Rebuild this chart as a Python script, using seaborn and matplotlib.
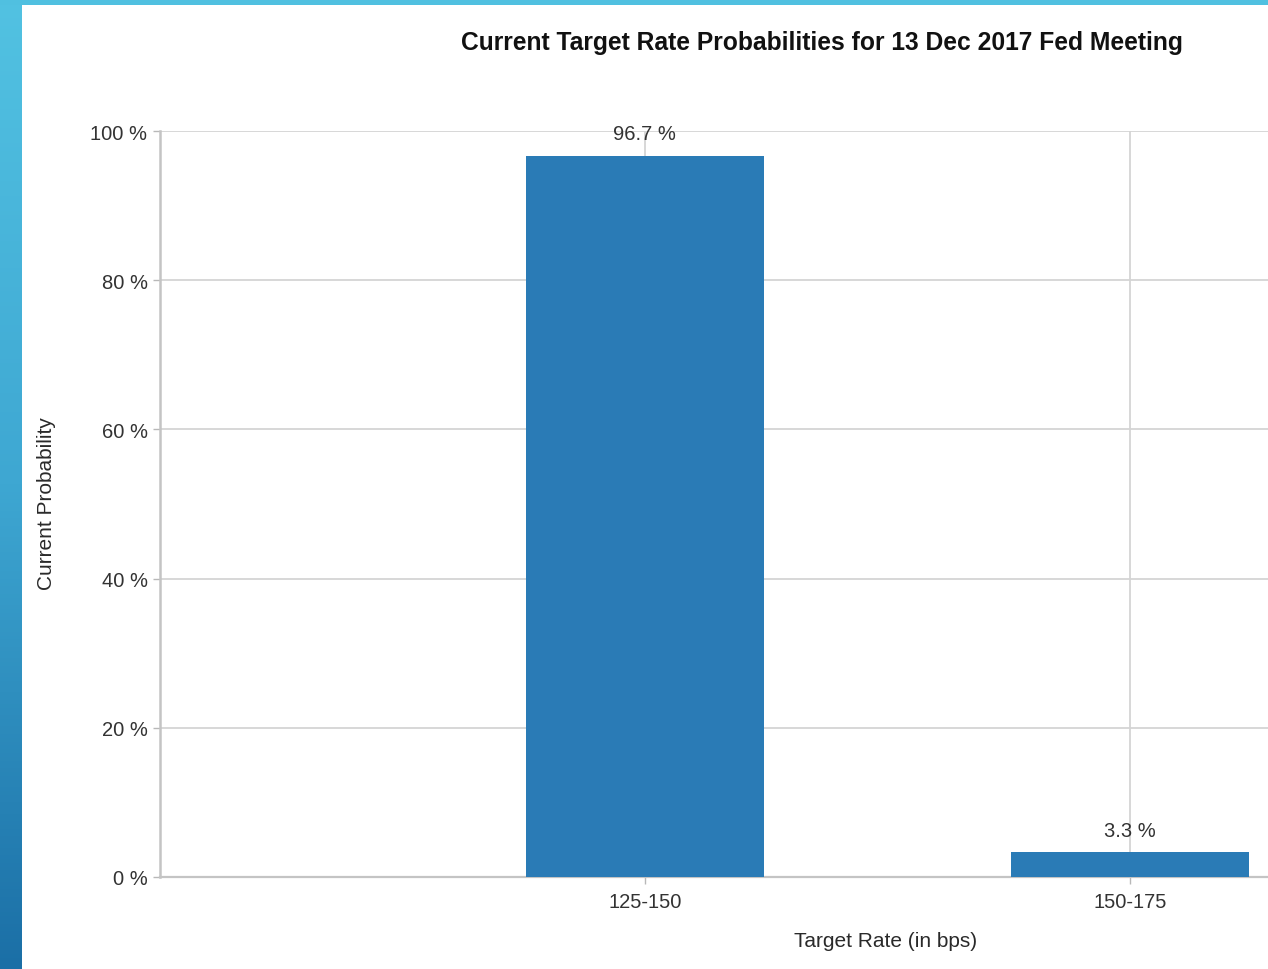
import numpy as np
import pandas as pd
import matplotlib
matplotlib.use("Agg")
import matplotlib.pyplot as plt
from matplotlib.colors import LinearSegmentedColormap
import seaborn as sns

# ---- data ----
categories = ["125-150", "150-175"]
probabilities = [96.7, 3.3]
y_ticks = [0, 20, 40, 60, 80, 100]
y_tick_labels = ["0 %", "20 %", "40 %", "60 %", "80 %", "100 %"]
bar_labels = ["96.7 %", "3.3 %"]

title = "Current Target Rate Probabilities for 13 Dec 2017 Fed Meeting"
x_label = "Target Rate (in bps)"
y_label = "Current Probability"

sns.set_theme(style="white")
plt.rcParams["font.family"] = ["Liberation Sans", "DejaVu Sans"]

W, H = 1268, 970
fig = plt.figure(figsize=(W / 100, H / 100), dpi=100)
fig.patch.set_facecolor("white")

# blue frame (left gradient strip + top strip)
cmap = LinearSegmentedColormap.from_list("frame", ["#52c2e2", "#3ea7d2", "#1b6fa6"])
ax_l = fig.add_axes([0, 0, 22 / W, 1])
ax_l.imshow(np.linspace(0, 1, 256).reshape(-1, 1), aspect="auto", cmap=cmap)
ax_l.set_axis_off()
ax_t = fig.add_axes([0, 1 - 6 / H, 1, 6 / H])
ax_t.set_facecolor("#50c0e0")
ax_t.set_xticks([]); ax_t.set_yticks([])
for s in ax_t.spines.values():
    s.set_visible(False)

# main axes
left, right = 160 / W, 1.0
bottom, top = 1 - 878 / H, 1 - 132 / H
ax = fig.add_axes([left, bottom, right - left, top - bottom])

df = pd.DataFrame({"rate": categories, "prob": probabilities})
sns.barplot(data=df, x="rate", y="prob", order=categories, color="#2a7bb6",
            saturation=1, width=0.49, ax=ax, zorder=3, linewidth=0,
            edgecolor="none")

ax.set_xlim(-1, 1.285)
ax.set_ylim(0, 100)
ax.set_yticks(y_ticks)
ax.set_yticklabels(y_tick_labels)

grid_c = "#d4d4d4"
ax.set_axisbelow(True)
ax.grid(True, axis="both", color=grid_c, linewidth=1.3)
for side in ["top", "right"]:
    ax.spines[side].set_visible(False)
ax.spines["left"].set_color("#c4c4c4")
ax.spines["left"].set_linewidth(1.8)
ax.spines["bottom"].set_color("#c4c4c4")
ax.spines["bottom"].set_linewidth(1.6)

ax.tick_params(axis="both", which="both", length=5, width=1, color="#b8b8b8",
               labelcolor="#333333", labelsize=14.5)
ax.tick_params(axis="y", left=True, pad=4)
ax.tick_params(axis="x", bottom=True, pad=6)

for i, (v, lab) in enumerate(zip(probabilities, bar_labels)):
    ax.annotate(lab, xy=(i, v), xytext=(0, 9), textcoords="offset points",
                ha="center", va="bottom", fontsize=14.5, color="#333333")

ax.set_xlabel(x_label, fontsize=15, color="#2a2a2a")
ax.set_ylabel(y_label, fontsize=15, color="#2a2a2a")
ax.xaxis.set_label_coords((886 - 160) / 1108, (878 - 942) / 746)
ax.yaxis.set_label_coords((47 - 160) / 1108, (878 - 504) / 746)
ax.xaxis.label.set_va("center")
ax.yaxis.label.set_va("center")

fig.text(822 / W, 1 - 43 / H, title, ha="center", va="center",
         fontsize=17.7, fontweight="bold",
         family=["Liberation Sans Narrow", "Liberation Sans", "DejaVu Sans"],
         color="#111111")

fig.savefig("out.png", dpi=100)
